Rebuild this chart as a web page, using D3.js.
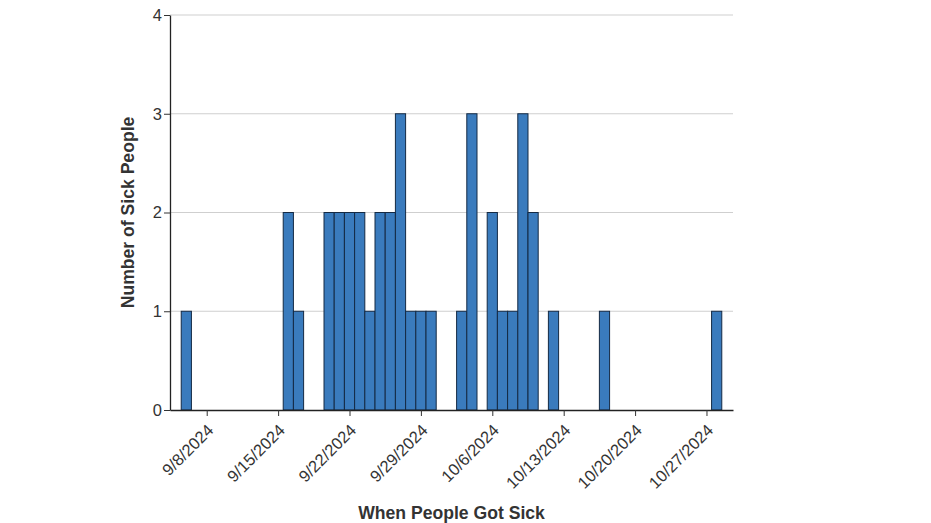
<!DOCTYPE html>
<html>
<head>
<meta charset="utf-8">
<script src="https://cdn.jsdelivr.net/npm/d3@7"></script>
<style>
  body { margin: 0; background: #fff; }
  svg { display: block; font-family: "Liberation Sans", Arial, sans-serif; }
</style>
</head>
<body>
<svg id="chart" width="931" height="523"></svg>
<script>
// Data: onset dates and counts of sick people
const dates = ["2024-09-06","2024-09-16","2024-09-17","2024-09-20","2024-09-21","2024-09-22",
  "2024-09-23","2024-09-24","2024-09-25","2024-09-26","2024-09-27","2024-09-28","2024-09-29",
  "2024-09-30","2024-10-03","2024-10-04","2024-10-06","2024-10-07","2024-10-08","2024-10-09",
  "2024-10-10","2024-10-12","2024-10-17","2024-10-28"];
const counts = [1,2,1,2,2,2,2,1,2,2,3,1,1,1,1,3,2,1,1,3,2,1,1,1];
const tickDates = ["2024-09-08","2024-09-15","2024-09-22","2024-09-29","2024-10-06","2024-10-13","2024-10-20","2024-10-27"];
const yTicks = [0,1,2,3,4];

(function () {
const parse = d3.utcParse("%Y-%m-%d");
const fmt = d3.utcFormat("%-m/%-d/%Y");
const data = dates.map((d, i) => ({ date: parse(d), value: counts[i] }));

const svg = d3.select("#chart");
const mLeft = 170, mRight = 733, mTop = 15, mBottom = 410;

const DAY = 864e5;
const ref = parse("2024-09-08").getTime();
const x = d3.scaleUtc()
  .domain([new Date(ref - 3.6 * DAY), new Date(ref + 51.6 * DAY)])
  .range([mLeft, mRight]);
const y = d3.scaleLinear().domain([0, 4]).range([mBottom, mTop]);
const dayW = x(new Date(ref + DAY)) - x(new Date(ref));

// gridlines
svg.append("g")
  .selectAll("line")
  .data(yTicks.filter(t => t > 0))
  .join("line")
  .attr("x1", mLeft).attr("x2", mRight)
  .attr("y1", d => y(d)).attr("y2", d => y(d))
  .attr("stroke", "#cfcfcf").attr("stroke-width", 1);

// bars
svg.append("g")
  .selectAll("rect")
  .data(data)
  .join("rect")
  .attr("x", d => x(d.date) - dayW / 2)
  .attr("width", dayW)
  .attr("y", d => y(d.value))
  .attr("height", d => y(0) - y(d.value))
  .attr("fill", "#3a7bbd")
  .attr("stroke", "#142a44")
  .attr("stroke-width", 1);

// x axis
const xAxis = svg.append("g")
  .attr("transform", `translate(0,${mBottom})`)
  .call(d3.axisBottom(x).tickValues(tickDates.map(parse)).tickFormat(fmt).tickSize(6).tickSizeOuter(0));
xAxis.select(".domain").attr("stroke", "#222").attr("stroke-width", 1.3);
xAxis.selectAll(".tick line").attr("stroke", "#333");
xAxis.selectAll(".tick text")
  .attr("font-size", 16.5)
  .attr("fill", "#333")
  .attr("text-anchor", "end")
  .attr("dy", "0.71em")
  .attr("y", 0).attr("x", 0)
  .attr("transform", "translate(-1,13) rotate(-45)");

// y axis
const yAxis = svg.append("g")
  .attr("transform", `translate(${mLeft},0)`)
  .call(d3.axisLeft(y).tickValues(yTicks).tickFormat(d3.format("d")).tickSize(6).tickSizeOuter(0));
yAxis.select(".domain").attr("stroke", "#222").attr("stroke-width", 1.3);
yAxis.selectAll(".tick line").attr("stroke", "#333");
yAxis.selectAll(".tick text").attr("font-size", 16.5).attr("fill", "#333").attr("x", -8);

// axis titles
svg.append("text")
  .attr("x", (mLeft + mRight) / 2).attr("y", 519)
  .attr("text-anchor", "middle")
  .attr("font-size", 17.6).attr("font-weight", "bold").attr("fill", "#333")
  .text("When People Got Sick");

svg.append("text")
  .attr("transform", `translate(134,${(mTop + mBottom) / 2}) rotate(-90)`)
  .attr("text-anchor", "middle")
  .attr("font-size", 17.6).attr("font-weight", "bold").attr("fill", "#333")
  .text("Number of Sick People");
})();
</script>
</body>
</html>
